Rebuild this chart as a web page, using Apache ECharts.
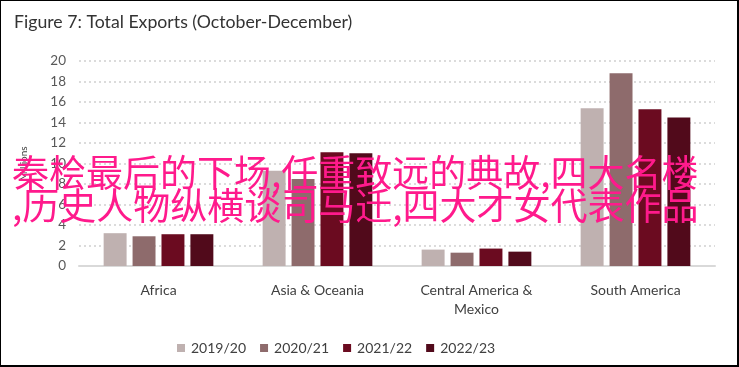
<!DOCTYPE html>
<html><head><meta charset="utf-8">
<script src="https://cdn.jsdelivr.net/npm/echarts@6/dist/echarts.min.js"></script>
<style>html,body{margin:0;padding:0;background:#fff}#c{width:739px;height:367px;box-sizing:border-box;border:1px solid #000;border-right-width:2px;border-bottom-width:2px}</style>
</head><body><div id="c"></div>
<script>
const categories = ['Africa', 'Asia & Oceania', 'Central America &\nMexico', 'South America'];
const seriesNames = ['2019/20', '2020/21', '2021/22', '2022/23'];
const v2019 = [3.2, 9.3, 1.6, 15.4];
const v2020 = [2.9, 8.5, 1.3, 18.8];
const v2021 = [3.1, 11.1, 1.7, 15.3];
const v2022 = [3.1, 11.0, 1.4, 14.5];
const colors = ['#bfb1b0', '#8e6b6c', '#6b0b20', '#510a1b'];
const overlayLine1 = '秦桧最后的下场,任重致远的典故,四大名楼';
const overlayLine2 = ',历史人物纵横谈司马迁,四大才女代表作品';
const titleText = 'Figure 7: Total Exports (October-December)';
const yName = 'Millions';

const values = [v2019, v2020, v2021, v2022];
const font = 'Lato, "Open Sans", sans-serif';
const chart = echarts.init(document.getElementById('c'));
chart.setOption({
  animation: false,
  title: {text: titleText, left: 8, top: 7, textStyle: {fontFamily: font, fontSize: 17.7, fontWeight: 'normal', color: '#333'}},
  legend: {top: 335, left: 171, itemWidth: 8, itemHeight: 8, itemGap: 14,
    textStyle: {fontFamily: font, fontSize: 14, color: '#404040', padding: [0, 0, 0, 1]}, icon: 'rect'},
  grid: {left: 78, right: 22, top: 60, bottom: 99},
  xAxis: {type: 'category', data: categories,
    axisLine: {lineStyle: {color: '#d9d9d9', width: 2}}, axisTick: {show: false},
    axisLabel: {fontFamily: font, fontSize: 14, color: '#404040', margin: 15, lineHeight: 19}},
  yAxis: {type: 'value', min: 0, max: 20, interval: 2,
    name: yName, nameLocation: 'middle', nameGap: 50, nameRotate: 90,
    nameTextStyle: {fontFamily: font, fontSize: 10, color: '#404040'},
    axisLabel: {fontFamily: font, fontSize: 13.5, color: '#595959', margin: 13},
    splitLine: {lineStyle: {color: '#d0d0d0', type: [2, 3], width: 1.5}}},
  series: seriesNames.map((n, i) => ({
    name: n, type: 'bar', data: values[i], barGap: '26%', barCategoryGap: '31%',
    itemStyle: {color: colors[i]}
  })),
  graphic: [
    {type: 'text', left: 11, top: 153, z: 100, style: {text: overlayLine1, font: '37px "Noto Sans CJK SC"', fill: '#ff1a8c'}},
    {type: 'text', left: 11, top: 186, z: 100, style: {text: overlayLine2, font: '37px "Noto Sans CJK SC"', fill: '#ff1a8c'}}
  ]
});
</script></body></html>
